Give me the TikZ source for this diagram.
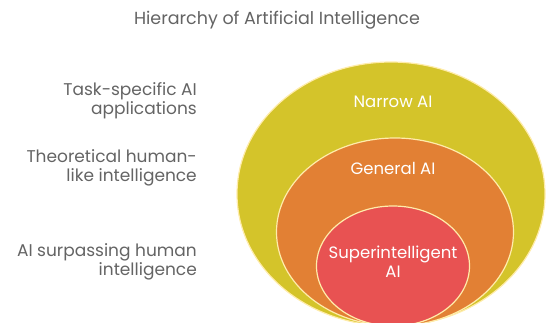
\documentclass[tikz,border=0pt]{standalone}
\usepackage{fontspec}
\setmainfont{Poppins}
\usetikzlibrary{shapes.geometric}
\definecolor{narrowc}{RGB}{212,196,42}
\definecolor{generalc}{RGB}{226,128,52}
\definecolor{superc}{RGB}{232,82,82}
\definecolor{rimc}{RGB}{255,236,170}
\definecolor{labelc}{RGB}{100,100,100}
\tikzset{
  zone/.style={ellipse, draw=rimc, line width=1.2pt, inner sep=0pt},
  desc/.style={align=right, anchor=east, text=labelc, font=\fontsize{17}{19}\selectfont, inner sep=0pt},
  zlabel/.style={align=center, text=white, font=\fontsize{16.5}{19}\selectfont, inner sep=0pt},
}
\begin{document}
\begin{tikzpicture}[x=1pt,y=-1pt]
\useasboundingbox (0,0) rectangle (546,322);
\node[zone, fill=narrowc, minimum width=308pt, minimum height=264pt] (outer) at (391,194) {};
\node[zone, fill=generalc, minimum width=237pt, minimum height=188pt] (middle) at (395,232) {};
\node[zone, fill=superc, minimum width=153pt, minimum height=120pt] (inner) at (393,266) {};
\node[text=labelc, font=\fontsize{17.5}{19}\selectfont, inner sep=0pt] (title) at (277,20) {Hierarchy of Artificial Intelligence};
\node[zlabel] (narrow) at (393,102) {Narrow AI};
\node[zlabel] (general) at (393,168) {General AI};
\node[zlabel] (super) at (393,262) {Superintelligent\\AI};
\node[desc] (d1) at (197,101) {Task-specific AI\\applications};
\node[desc] (d2) at (197,168) {Theoretical human-\\like intelligence};
\node[desc] (d3) at (197,262) {AI surpassing human\\intelligence};
\end{tikzpicture}
\end{document}
